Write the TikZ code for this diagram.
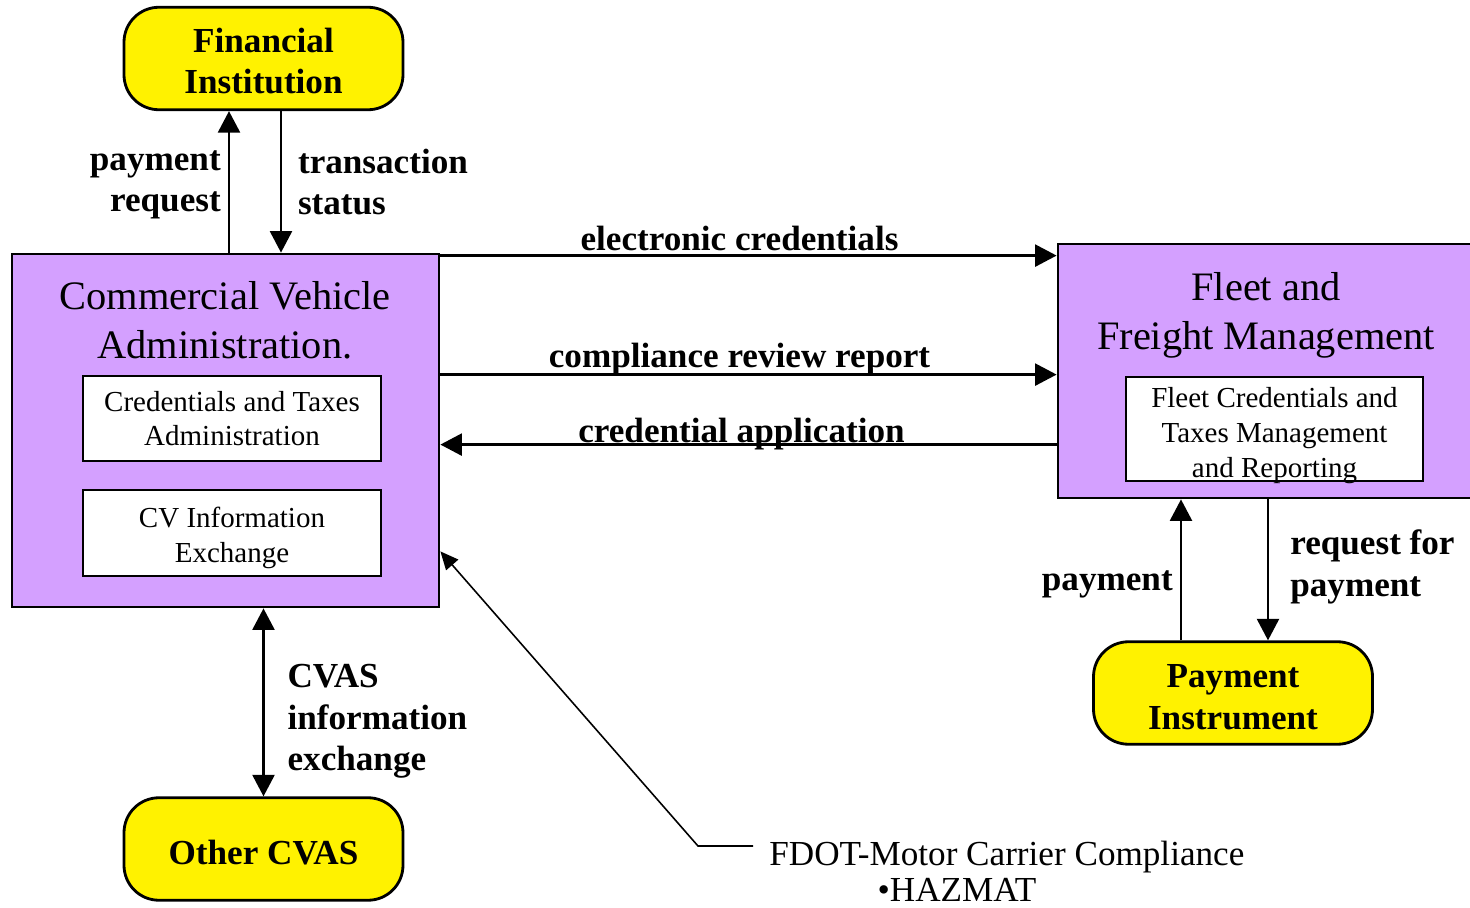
\documentclass[tikz,border=0pt]{standalone}
\usepackage{fontspec}
\setmainfont{Liberation Serif}
\usetikzlibrary{arrows.meta}
\definecolor{cvapurple}{RGB}{212,160,255}
\newcommand{\lblfont}{\fontsize{20}{23.5}\selectfont\bfseries}

\begin{document}
\begin{tikzpicture}[>={Triangle[length=0.43cm,width=0.44cm]},
    terminal/.style={draw, line width=1.6pt, fill=yellow, rounded corners=0.7cm, minimum width=5.58cm, minimum height=2.05cm, align=center, font=\lblfont},
    system/.style={draw, line width=1.6pt, fill=cvapurple},
    subsys/.style={draw, line width=1.6pt, fill=white, align=center, font=\fontsize{16.5}{19.8}\selectfont},
    boxtitle/.style={align=center, font=\fontsize{23}{27.8}\selectfont},
    flow/.style={->, line width=1.4pt},
    lbl/.style={font=\lblfont, inner sep=4pt},
    remark/.style={font=\fontsize{20}{22.7}\selectfont},
    remarkline/.style={-{Triangle[length=0.36cm,width=0.32cm]}, line width=0.9pt}]
    \useasboundingbox (0,0) rectangle (29.4,-18.16);
    % external entities
    \node[terminal] (fi) at (5.27,-1.17) {\rule{0pt}{17pt}Financial\\Institution};
    \node[terminal] (pi) at (24.66,-13.86) {\rule{0pt}{18pt}Payment\\Instrument};
    \node[terminal] (ocvas) at (5.27,-16.98) {\rule{0pt}{18pt}Other CVAS};
    % subsystems
    \node[system, minimum width=8.54cm, minimum height=7.06cm] (cva) at (4.51,-8.61) {};
    \node[system, minimum width=8.32cm, minimum height=5.08cm] (ffm) at (25.32,-7.42) {};
    \node[boxtitle] (cvatitle) at (4.5,-6.41) {Commercial Vehicle\\Administration.};
    \node[boxtitle] (ffmtitle) at (25.32,-6.31) {Fleet and\\Freight Management};
    \node[subsys, minimum width=5.96cm, minimum height=1.7cm] (cta) at (4.64,-8.37) {Credentials and Taxes\\Administration};
    \node[subsys, minimum width=5.96cm, minimum height=1.72cm] (cvie) at (4.64,-10.66) {\rule{0pt}{17pt}CV Information\\Exchange};
    \node[subsys, inner ysep=-1.7pt, minimum width=5.94cm, minimum height=2.08cm] (fctm) at (25.49,-8.58) {\rule{0pt}{19pt}Fleet Credentials and\\Taxes Management\\and Reporting};
    % flows to the financial institution
    \coordinate (prq) at ([xshift=-0.69cm]fi.south);
    \coordinate (tst) at ([xshift=0.35cm]fi.south);
    \draw[flow] (prq |- cva.north) -- (prq) node[lbl, midway, left, align=right, yshift=-0.06cm] {payment\\request};
    \draw[flow] (tst) -- (tst |- cva.north) node[lbl, midway, right, align=left, xshift=5pt] {transaction\\status};
    % flows between the subsystems
    \coordinate (ec) at ([yshift=-0.06cm]cva.north east);
    \coordinate (cr) at ([yshift=-2.44cm]cva.north east);
    \coordinate (ca) at ([yshift=-3.84cm]cva.north east);
    \draw[flow] (ec) -- (ec -| ffm.west) node[lbl, midway, above, xshift=-0.18cm, yshift=-0.08cm] {electronic credentials};
    \draw[flow] (cr) -- (cr -| ffm.west) node[lbl, midway, above, xshift=-0.18cm, yshift=-0.18cm] {compliance review report};
    \draw[flow] (ca -| ffm.west) -- (ca) node[lbl, midway, above, xshift=-0.14cm, yshift=-0.28cm] {credential application};
    % flows to the payment instrument
    \coordinate (pay) at ([xshift=-1.04cm]pi.north);
    \coordinate (rfp) at ([xshift=0.70cm]pi.north);
    \draw[flow] (pay) -- (pay |- ffm.south) node[lbl, midway, left, yshift=-0.3cm] {payment};
    \draw[flow] (rfp |- ffm.south) -- (rfp) node[lbl, midway, right, align=left, xshift=8pt, yshift=0.06cm] {request for\\payment};
    % other CVAS
    \draw[flow, <->] (ocvas.north |- cva.south) -- (ocvas.north) node[lbl, midway, right, align=left, xshift=9pt, yshift=-0.38cm] {CVAS\\information\\exchange};
    % note
    \node[remark, anchor=base west, inner xsep=0.32cm] (fdot) at (15.06,-17.30) {FDOT-Motor Carrier Compliance};
    \node[remark, anchor=base] (hazmat) at (19.14,-18.03) {•HAZMAT};
    \coordinate (bend) at (13.96,-16.92);
    \draw[remarkline] (fdot.west |- bend) -- (bend) -- ([yshift=1.14cm]cva.south east);
\end{tikzpicture}
\end{document}
